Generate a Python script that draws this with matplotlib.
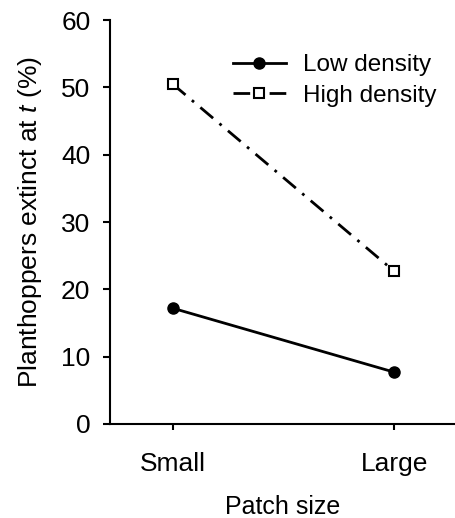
import matplotlib
matplotlib.use("Agg")
import matplotlib.pyplot as plt

plt.rcParams['font.family'] = ['Liberation Sans', 'DejaVu Sans']
plt.rcParams['mathtext.fontset'] = 'custom'
plt.rcParams['mathtext.rm'] = 'Liberation Sans'
plt.rcParams['mathtext.it'] = 'Liberation Sans:italic'

# dados
categorias = ['Small', 'Large']
baixa_densidade = [17.2, 7.7]
alta_densidade = [50.5, 22.7]
y_ticks = [0, 10, 20, 30, 40, 50, 60]

fig = plt.figure(figsize=(4.56, 5.18), dpi=100)
ax = fig.add_axes([0.241, 0.1815, 0.757, 0.7795])

x = list(range(len(categorias)))
ax.plot(x, baixa_densidade, color='black', linestyle='-', linewidth=2,
        marker='o', markersize=8, label='Low density')
ax.plot(x, alta_densidade, color='black', linestyle=(0, (6, 3, 1, 3)), linewidth=2,
        marker='s', markersize=6.5, markerfacecolor='white', markeredgewidth=1.5,
        label='High density')

ax.set_xlim(-0.284, 1.275)
ax.set_ylim(0, 60)
ax.set_yticks(y_ticks)
ax.set_xticks(x)
ax.set_xticklabels(categorias)
ax.tick_params(axis='both', labelsize=19, width=1.5, direction='out', colors='black')
ax.tick_params(axis='y', length=5, pad=9)
ax.tick_params(axis='x', length=4, pad=16)
for lado in ['top', 'right']:
    ax.spines[lado].set_visible(False)
for lado in ['left', 'bottom']:
    ax.spines[lado].set_linewidth(1.5)

ax.set_xlabel('Patch size', fontsize=18, labelpad=14)
ax.set_ylabel('Planthoppers extinct at $t$ (%)', fontsize=19, labelpad=12)

ax.legend(loc='upper right', frameon=False, fontsize=17.5, handlelength=2.2,
          handletextpad=0.7, bbox_to_anchor=(0.975, 0.94), borderaxespad=0.0,
          labelspacing=0.35)

fig.savefig('out.png', dpi=100)
